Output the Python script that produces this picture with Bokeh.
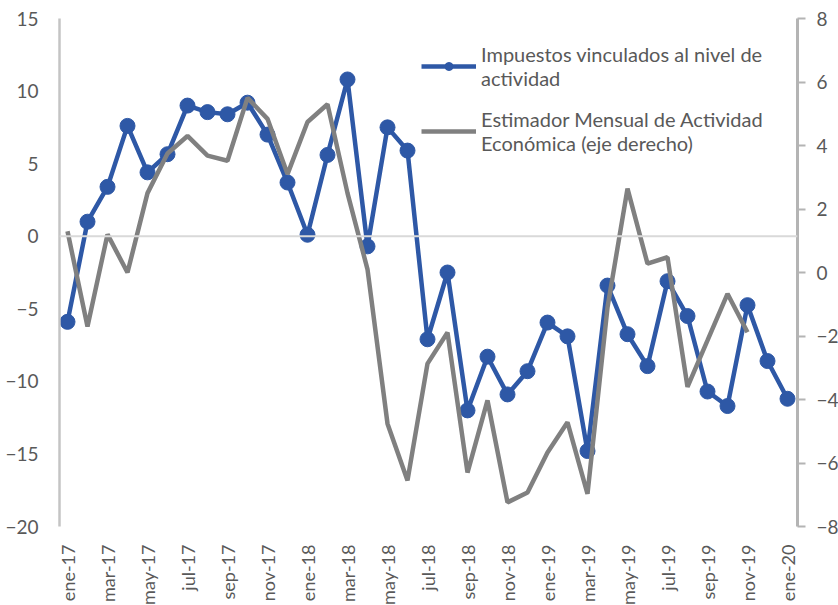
import math
from bokeh.plotting import figure
from bokeh.models import (Range1d, LinearAxis, FixedTicker, Span, Legend, LegendItem)
from bokeh.embed import file_html
from bokeh.resources import INLINE

# ---- data ----
months = ["ene-17", "feb-17", "mar-17", "abr-17", "may-17", "jun-17", "jul-17", "ago-17",
          "sep-17", "oct-17", "nov-17", "dic-17",
          "ene-18", "feb-18", "mar-18", "abr-18", "may-18", "jun-18", "jul-18", "ago-18",
          "sep-18", "oct-18", "nov-18", "dic-18",
          "ene-19", "feb-19", "mar-19", "abr-19", "may-19", "jun-19", "jul-19", "ago-19",
          "sep-19", "oct-19", "nov-19", "dic-19",
          "ene-20"]

impuestos = [-5.9, 1.0, 3.4, 7.6, 4.4, 5.65, 9.0, 8.55, 8.4, 9.2, 7.0, 3.7,
             0.1, 5.6, 10.8, -0.7, 7.5, 5.9, -7.1, -2.5, -12.0, -8.3, -10.9, -9.3,
             -5.95, -6.9, -14.8, -3.4, -6.75, -8.95, -3.1, -5.5, -10.7, -11.7, -4.75, -8.6,
             -11.2]

emae = [1.3, -1.7, 1.2, 0.0, 2.5, 3.75, 4.3, 3.68, 3.52, 5.5, 4.84, 3.1,
        4.74, 5.3, 2.5, 0.1, -4.76, -6.55, -2.87, -1.89, -6.3, -4.03, -7.24, -6.93,
        -5.67, -4.72, -6.97, -1.1, 2.64, 0.28, 0.48, -3.6, -2.14, -0.67, -1.88]

left_ticks = [-20, -15, -10, -5, 0, 5, 10, 15]
right_ticks = [-8, -6, -4, -2, 0, 2, 4, 6, 8]

label_imp = "Impuestos vinculados al nivel de\nactividad"
label_emae = "Estimador Mensual de Actividad\nEconómica (eje derecho)"

# ---- styling ----
BLUE = "#2E58A6"
GRAY = "#808080"
TXT = "#595959"
FONT = "Lato"
FS = "19px"

x_idx = list(range(len(months)))

p = figure(frame_width=738, frame_height=508,
           x_range=Range1d(-0.4, len(months) - 1 + 0.5),
           y_range=Range1d(-20, 15),
           output_backend="svg", toolbar_location=None,
           min_border_left=59, min_border_top=18, min_border_right=38, min_border_bottom=70)
p.outline_line_color = None
p.xgrid.grid_line_color = None
p.ygrid.grid_line_color = None
p.background_fill_color = "white"

p.extra_y_ranges = {"right": Range1d(-8, 8)}

# zero line
p.add_layout(Span(location=0, dimension="width", line_color="#d9d9d9", line_width=2))

# left axis
ya = p.yaxis[0]
ya.ticker = FixedTicker(ticks=left_ticks)
ya.axis_line_color = "#c4c4c4"
ya.axis_line_width = 2.5
ya.major_tick_line_color = None
ya.minor_tick_line_color = None
ya.major_label_text_font = FONT
ya.major_label_text_font_size = FS
ya.major_label_text_color = TXT
ya.major_label_standoff = 15

# right axis
ra = LinearAxis(y_range_name="right", ticker=FixedTicker(ticks=right_ticks))
ra.axis_line_color = "#b4b4b4"
ra.axis_line_width = 3
ra.major_tick_line_color = "#b4b4b4"
ra.major_tick_line_width = 2
ra.major_tick_out = 8
ra.major_tick_in = 0
ra.minor_tick_line_color = None
ra.major_label_text_font = FONT
ra.major_label_text_font_size = FS
ra.major_label_text_color = TXT
ra.major_label_standoff = 11
p.add_layout(ra, "right")

# x axis
xa = p.xaxis[0]
xa.ticker = FixedTicker(ticks=list(range(0, len(months), 2)))
xa.major_label_overrides = {i: m for i, m in enumerate(months)}
xa.major_label_orientation = math.pi / 2
xa.axis_line_color = None
xa.major_tick_line_color = None
xa.minor_tick_line_color = None
xa.major_label_text_font = FONT
xa.major_label_text_font_size = "18px"
xa.major_label_text_color = TXT
xa.major_label_standoff = 12

# series
l1 = p.line(x_idx, impuestos, line_color=BLUE, line_width=4.5)
s1 = p.scatter(x_idx, impuestos, size=15, fill_color=BLUE, line_color=BLUE)
l2 = p.line(x_idx[:len(emae)], emae, line_color=GRAY, line_width=4.5, y_range_name="right")

legend = Legend(items=[LegendItem(label=label_imp, renderers=[l1, s1]),
                       LegendItem(label=label_emae, renderers=[l2])],
                location="top_right")
legend.background_fill_alpha = 0
legend.border_line_color = None
legend.label_text_font = FONT
legend.label_text_font_size = "20px"
legend.label_text_line_height = 1.35
legend.label_text_color = TXT
legend.glyph_width = 55
legend.spacing = 17
legend.margin = 24
legend.padding = 0
legend.label_standoff = 5
legend.label_width = 292
p.add_layout(legend)

open("out.html", "w").write(file_html(p, INLINE))
